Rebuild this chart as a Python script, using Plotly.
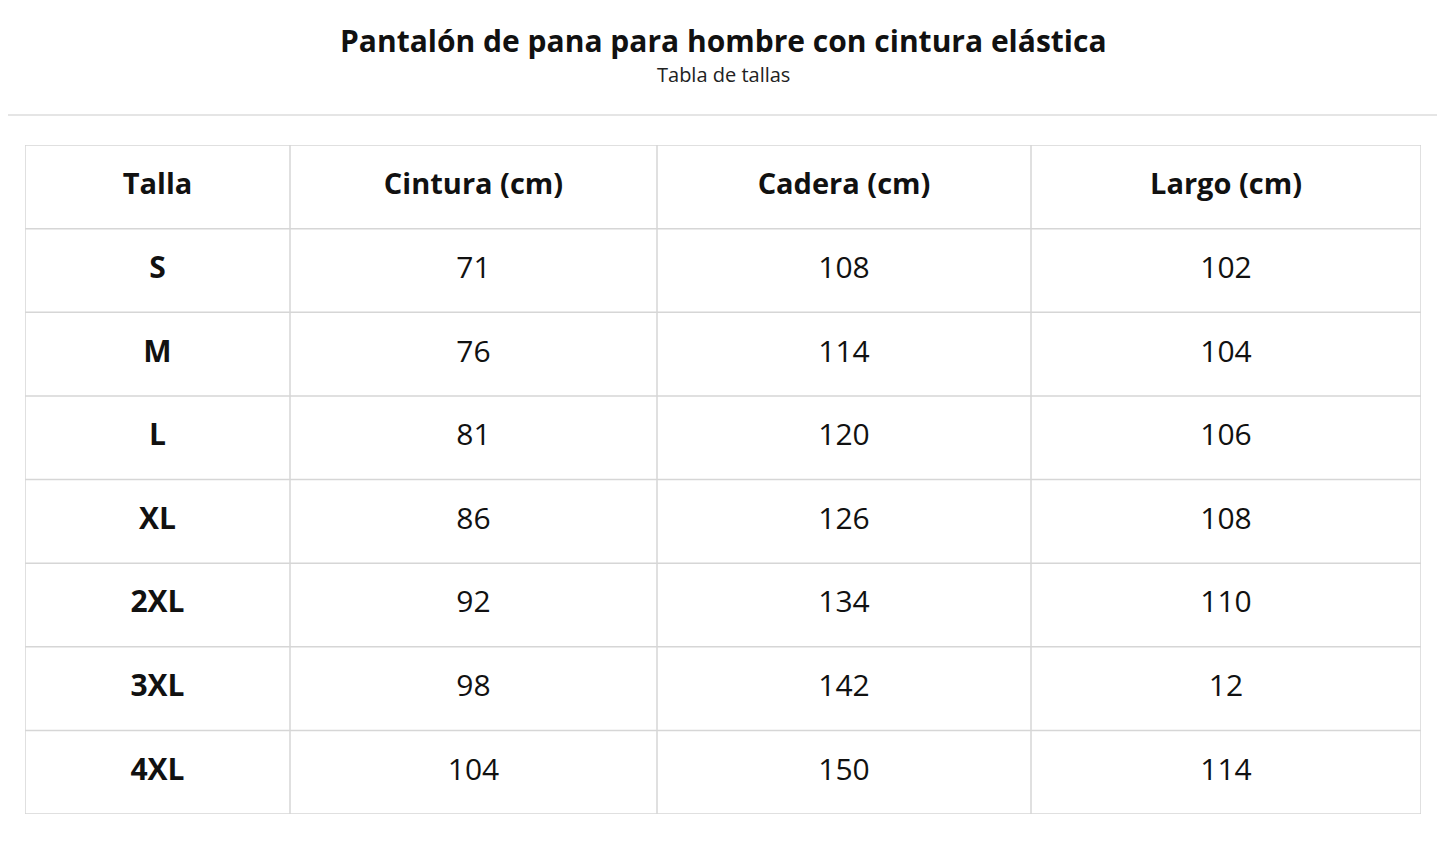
import plotly.graph_objects as go

headers = ["Talla", "Cintura (cm)", "Cadera (cm)", "Largo (cm)"]
tallas = ["S", "M", "L", "XL", "2XL", "3XL", "4XL"]
cintura = ["71", "76", "81", "86", "92", "98", "104"]
cadera = ["108", "114", "120", "126", "134", "142", "150"]
largo = ["102", "104", "106", "108", "110", "12", "114"]

W, H = 1445, 864
OFF = 8  # page offset
col_edges = [0, 265, 632, 1006, 1396]
mids = [(col_edges[i] + col_edges[i + 1]) / 2 for i in range(4)]
nrows = len(tallas) + 1
grid = "#d6d6d6"
FONT = "Open Sans"

fig = go.Figure()
# header
fig.add_trace(go.Scatter(x=mids, y=[0.5] * 4, mode="text",
                         text=[f"<b>{h}</b>" for h in headers],
                         textfont=dict(family=FONT, size=29, color="#111"), hoverinfo="skip"))
cols = [[f"<b>{t}</b>" for t in tallas], cintura, cadera, largo]
for ci, col in enumerate(cols):
    fig.add_trace(go.Scatter(x=[mids[ci]] * len(col), y=[r + 1.5 for r in range(len(col))],
                             mode="text", text=col,
                             textfont=dict(family=FONT, size=30, color="#111"), hoverinfo="skip"))

shapes = []
for e in col_edges:
    shapes.append(dict(type="line", xref="x", yref="y", x0=e, x1=e, y0=0, y1=nrows,
                       line=dict(color=grid, width=1.5)))
for r in range(nrows + 1):
    shapes.append(dict(type="line", xref="x", yref="y", x0=0, x1=col_edges[-1], y0=r, y1=r,
                       line=dict(color=grid, width=1.5)))
shapes.append(dict(type="line", xref="paper", yref="paper", x0=-0.05, x1=1.05,
                   y0=1 + (137 - (115 - OFF)) / 669, y1=1 + (137 - (115 - OFF)) / 669,
                   line=dict(color="#dddddd", width=1.5)))

top = 145 - OFF
bottom = H - (814 - OFF)
plot_h = H - top - bottom
fig.update_layout(
    width=W, height=H, showlegend=False,
    margin=dict(l=25 - OFF, r=W - (1421 - OFF), t=top, b=bottom),
    paper_bgcolor="white", plot_bgcolor="white",
    xaxis=dict(range=[0, col_edges[-1]], visible=False, fixedrange=True),
    yaxis=dict(range=[nrows, 0], visible=False, fixedrange=True),
    shapes=shapes,
    annotations=[
        dict(text="<b>Pantalón de pana para hombre con cintura elástica</b>", x=0.5,
             y=1 + (top - (40 - OFF)) / plot_h, yanchor="middle",
             xref="paper", yref="paper", showarrow=False, font=dict(family=FONT, size=30, color="#111")),
        dict(text="Tabla de tallas", x=0.5, y=1 + (top - (74 - OFF)) / plot_h, yanchor="middle",
             xref="paper", yref="paper", showarrow=False, font=dict(family=FONT, size=20, color="#222")),
    ],
)
fig.write_html("out.html")
